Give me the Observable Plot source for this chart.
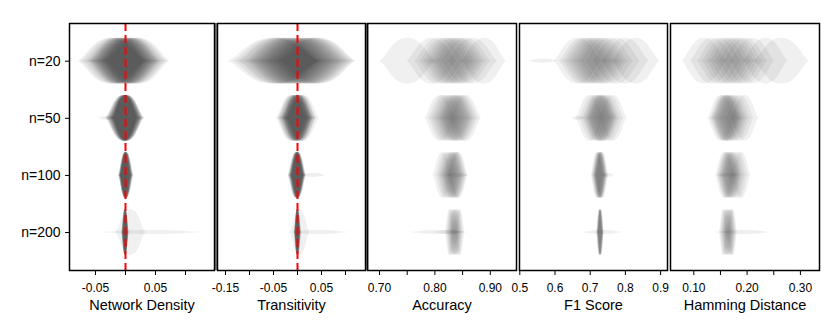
<!DOCTYPE html>
<html><head><meta charset="utf-8">
<script src="https://cdn.jsdelivr.net/npm/d3@7"></script>
<script src="https://cdn.jsdelivr.net/npm/@observablehq/plot@0.6"></script>
<style>
body{margin:0;background:#fff;}
#chart{position:relative;width:830px;height:332px;overflow:hidden;font-family:"Liberation Sans",Arial,Helvetica,sans-serif;}
#chart svg{position:absolute;top:0;}
</style></head><body><div id="chart"></div>
<script>
// ---------- data ----------
const nLabels = ["n=20", "n=50", "n=100", "n=200"];
const metricTitles = ["Network Density", "Transitivity", "Accuracy", "F1 Score", "Hamming Distance"];
const referenceValue = [0];

const densityTicks = [-0.05, 0, 0.05, 0.10];
const densityTickLabels = ["-0.05", "", "0.05", ""];
const transTicks = [-0.15, -0.10, -0.05, 0, 0.05, 0.10];
const transTickLabels = ["-0.15", "", "-0.05", "", "0.05", ""];
const accTicks = [0.70, 0.75, 0.80, 0.85, 0.90];
const accTickLabels = ["0.70", "", "0.80", "", "0.90"];
const f1Ticks = [0.5, 0.6, 0.7, 0.8, 0.9];
const f1TickLabels = ["0.5", "0.6", "0.7", "0.8", "0.9"];
const hamTicks = [0.10, 0.15, 0.20, 0.25, 0.30];
const hamTickLabels = ["0.10", "", "0.20", "", "0.30"];

// violin centres and half-ranges, one row per sample size (n=20, 50, 100, 200)
const densityCenters = [
  [-0.024,-0.02,-0.017,-0.014,-0.012,-0.01,-0.008,-0.006,-0.004,-0.002,0,0.002,0.004,0.006,0.008,0.01,0.012,0.015,0.018,0.022],
  [-0.004,-0.003,-0.003,-0.002,-0.002,-0.001,-0.001,0,0,0,0,0.001,0.001,0.002,0.002,0.003,0.003,0.004,0.001,-0.001],
  [-0.001,0,0,0.001,0.001,0.001,0.002,0.002,0,0.001,-0.001,0.002,0.001,0,0.001,0.002,0.001,0,0.001,0.002],
  [-0.001,0,0,0,0.001,0,0,-0.001,0.001,0,0,0.001,0,0,0,-0.001,0.001,0,0,0.009]
];
const densityRanges = [
  [0.055,0.055,0.052,0.05,0.05,0.048,0.05,0.05,0.048,0.05,0.05,0.048,0.05,0.05,0.048,0.05,0.05,0.052,0.052,0.052],
  [0.028,0.03,0.025,0.027,0.022,0.03,0.024,0.026,0.02,0.032,0.028,0.022,0.03,0.025,0.027,0.024,0.028,0.026,0.023,0.021],
  [0.009,0.01,0.011,0.012,0.009,0.01,0.011,0.01,0.008,0.012,0.009,0.01,0.011,0.009,0.01,0.013,0.01,0.012,0.009,0.011],
  [0.005,0.004,0.005,0.006,0.005,0.004,0.005,0.005,0.004,0.006,0.005,0.004,0.005,0.006,0.005,0.004,0.005,0.005,0.006,0.025]
];
const densityTails = [[1,-0.045,-0.015],[3,-0.043,0.13]];

const transCenters = [
  [-0.05,-0.045,-0.04,-0.035,-0.03,-0.025,-0.02,-0.015,-0.01,-0.005,0,0.005,0.01,0.015,0.02,0.025,0.03,0.035,0.04,0.045],
  [-0.012,-0.01,-0.008,-0.007,-0.005,-0.004,-0.003,-0.002,-0.001,0,0,0.001,0.002,0.003,0.004,0.005,0.007,0.008,0.01,0.012],
  [-0.003,-0.002,-0.002,-0.001,-0.001,0,0,0,0.001,0.001,0.002,0.002,0.003,0,-0.001,0.001,0,0.002,-0.002,0.001],
  [0,0.001,0,0.001,0.002,0,0.001,0,0.001,0.002,0,0.001,0,0.001,0,0.001,0.002,0,0.001,0.005]
];
const transRanges = [
  [0.095,0.09,0.085,0.085,0.08,0.08,0.08,0.08,0.08,0.08,0.08,0.08,0.08,0.08,0.08,0.08,0.08,0.08,0.08,0.077],
  [0.032,0.03,0.033,0.03,0.032,0.03,0.028,0.03,0.032,0.03,0.028,0.03,0.032,0.03,0.028,0.03,0.032,0.03,0.03,0.034],
  [0.016,0.014,0.018,0.012,0.016,0.015,0.018,0.013,0.016,0.014,0.017,0.012,0.015,0.016,0.014,0.013,0.017,0.015,0.016,0.014],
  [0.006,0.007,0.005,0.006,0.007,0.006,0.005,0.007,0.006,0.006,0.005,0.007,0.006,0.005,0.006,0.007,0.006,0.005,0.006,0.02]
];
const transTails = [[2,0.005,0.06],[3,-0.02,0.108]];

const accCenters = [
  [0.751,0.795,0.808,0.817,0.824,0.83,0.836,0.842,0.848,0.856,0.868,0.889],
  [0.81,0.816,0.821,0.826,0.83,0.834,0.837,0.84,0.843,0.847,0.851,0.856],
  [0.814,0.819,0.823,0.826,0.829,0.831,0.833,0.835,0.837,0.839,0.841,0.843],
  [0.827,0.829,0.831,0.833,0.834,0.836,0.837,0.839,0.84,0.842,0.844,0.846]
];
const accRanges = [
  [0.05,0.045,0.045,0.045,0.045,0.045,0.045,0.045,0.045,0.045,0.045,0.04],
  [0.028,0.028,0.028,0.028,0.028,0.028,0.028,0.028,0.028,0.028,0.028,0.028],
  [0.017,0.017,0.017,0.017,0.017,0.017,0.017,0.017,0.017,0.017,0.017,0.017],
  [0.008,0.008,0.008,0.008,0.008,0.008,0.008,0.008,0.008,0.008,0.008,0.008]
];
const accTails = [[2,0.82,0.862],[3,0.754,0.862],[3,0.80,0.852]];

const f1Centers = [
  [0.665,0.68,0.69,0.70,0.71,0.72,0.73,0.74,0.755,0.775,0.80,0.83],
  [0.70,0.71,0.718,0.722,0.726,0.73,0.733,0.736,0.74,0.746,0.755,0.765],
  [0.72,0.722,0.724,0.726,0.727,0.728,0.729,0.73,0.731,0.732,0.734,0.736],
  [0.726,0.727,0.728,0.728,0.729,0.729,0.73,0.73,0.73,0.731,0.731,0.732]
];
const f1Ranges = [
  [0.068,0.068,0.068,0.068,0.068,0.068,0.068,0.068,0.068,0.068,0.068,0.068],
  [0.04,0.04,0.04,0.04,0.04,0.04,0.04,0.04,0.04,0.04,0.04,0.04],
  [0.017,0.017,0.017,0.017,0.017,0.017,0.017,0.017,0.017,0.017,0.017,0.017],
  [0.008,0.008,0.008,0.008,0.008,0.008,0.008,0.008,0.008,0.008,0.008,0.008]
];
const f1Tails = [[0,0.524,0.61],[1,0.648,0.685],[2,0.73,0.77],[3,0.675,0.794]];

const hamCenters = [
  [0.12,0.135,0.148,0.157,0.165,0.172,0.18,0.188,0.197,0.21,0.235,0.265],
  [0.152,0.156,0.159,0.161,0.163,0.165,0.168,0.171,0.175,0.18,0.187,0.196],
  [0.158,0.161,0.163,0.165,0.167,0.169,0.171,0.173,0.176,0.18,0.185,0.19],
  [0.156,0.158,0.16,0.162,0.163,0.165,0.166,0.168,0.169,0.171,0.172,0.174]
];
const hamRanges = [
  [0.042,0.042,0.042,0.042,0.042,0.042,0.042,0.042,0.042,0.042,0.042,0.052],
  [0.026,0.026,0.026,0.026,0.026,0.026,0.026,0.026,0.026,0.026,0.026,0.026],
  [0.017,0.017,0.017,0.017,0.017,0.017,0.017,0.017,0.017,0.017,0.017,0.017],
  [0.008,0.008,0.008,0.008,0.008,0.008,0.008,0.008,0.008,0.008,0.008,0.008]
];
const hamTails = [[2,0.144,0.186],[3,0.138,0.248]];

// violin outline template (relative half-width at 0, 0.1 ... 1 of the half-range)
const violinProfile = [1, 0.99, 0.96, 0.91, 0.83, 0.72, 0.58, 0.42, 0.25, 0.1, 0];

// ---------- layout ----------
const H = 0.40, TH = 0.035;
const panels = [
  {title: metricTitles[0], x0: 69, x1: 214, domain: [-0.09333, 0.14833], ticks: densityTicks, labels: densityTickLabels, centers: densityCenters, ranges: densityRanges, tails: densityTails, ref: true, gray: true},
  {title: metricTitles[1], x0: 217, x1: 365, domain: [-0.16667, 0.14167], ticks: transTicks, labels: transTickLabels, centers: transCenters, ranges: transRanges, tails: transTails, ref: true, gray: true},
  {title: metricTitles[2], x0: 367, x1: 516, domain: [0.67834, 0.94729], ticks: accTicks, labels: accTickLabels, centers: accCenters, ranges: accRanges, tails: accTails},
  {title: metricTitles[3], x0: 519, x1: 667, domain: [0.49915, 0.91960], ticks: f1Ticks, labels: f1TickLabels, centers: f1Centers, ranges: f1Ranges, tails: f1Tails},
  {title: metricTitles[4], x0: 670, x1: 819, domain: [0.05629, 0.33583], ticks: hamTicks, labels: hamTickLabels, centers: hamCenters, ranges: hamRanges, tails: hamTails}
];

function violinRows(centers, ranges) {
  const rows = [];
  centers.forEach((row, n) => row.forEach((c, j) => {
    const r = ranges[n][j];
    for (let k = -10; k <= 10; k++) {
      const w = H * violinProfile[Math.abs(k)];
      rows.push({id: n + "-" + j, x: c + r * k / 10, y1: n - w, y2: n + w});
    }
  }));
  return rows;
}
function tailRows(tails) {
  const rows = [];
  tails.forEach(([n, lo, hi], j) => {
    const c = (lo + hi) / 2, r = (hi - lo) / 2;
    for (let k = -10; k <= 10; k++) {
      const w = TH * violinProfile[Math.abs(k)];
      rows.push({id: "t" + j, x: c + r * k / 10, y1: n - w, y2: n + w});
    }
  });
  return rows;
}

const chart = document.getElementById("chart");
panels.forEach((p, i) => {
  const mL = i === 0 ? 69 : 10, mR = 10;
  const width = (p.x1 - p.x0) + mL + mR;
  const marks = [
    Plot.areaY(violinRows(p.centers, p.ranges), {x: "x", y1: "y1", y2: "y2", z: "id", fill: "#333", fillOpacity: 0.075, curve: "monotone-x"}),
    Plot.areaY(tailRows(p.tails), {x: "x", y1: "y1", y2: "y2", z: "id", fill: "#333", fillOpacity: 0.08, curve: "monotone-x"})
  ];
  if (p.ref) marks.push(Plot.ruleX(referenceValue, {stroke: "#ff0000", strokeWidth: 2, strokeDasharray: "8,4"}));
  if (p.gray) marks.push(Plot.ruleX([p.domain[1]], {dx: 1.5, stroke: "#808080", strokeWidth: 3}));
  marks.push(Plot.frame({stroke: "#000", strokeWidth: 1.5}));
  marks.push(Plot.axisX({
    ticks: p.ticks,
    tickFormat: d => p.labels[p.ticks.findIndex(t => Math.abs(t - d) < 1e-9)] ?? "",
    tickSize: 5, tickPadding: 8, fontSize: 12, label: null
  }));
  if (i === 0) marks.push(Plot.axisY({
    ticks: [0, 1, 2, 3], tickFormat: d => nLabels[d], tickSize: 4, tickPadding: 5, fontSize: 14, label: null
  }));
  marks.push(Plot.text([p.title], {text: d => d, frameAnchor: "bottom", dy: 29, lineAnchor: "top", fontSize: 14.5}));
  const svg = Plot.plot({
    width, height: 332,
    marginLeft: mL, marginRight: mR, marginTop: 23, marginBottom: 62,
    x: {domain: p.domain, axis: null},
    y: {domain: [3.665, -0.66], axis: null},
    style: {background: "transparent", overflow: "visible", fontFamily: "'Liberation Sans', Arial, Helvetica, sans-serif", color: "#000"},
    marks
  });
  svg.style.left = (p.x0 - mL) + "px";
  chart.appendChild(svg);
});
</script></body></html>
